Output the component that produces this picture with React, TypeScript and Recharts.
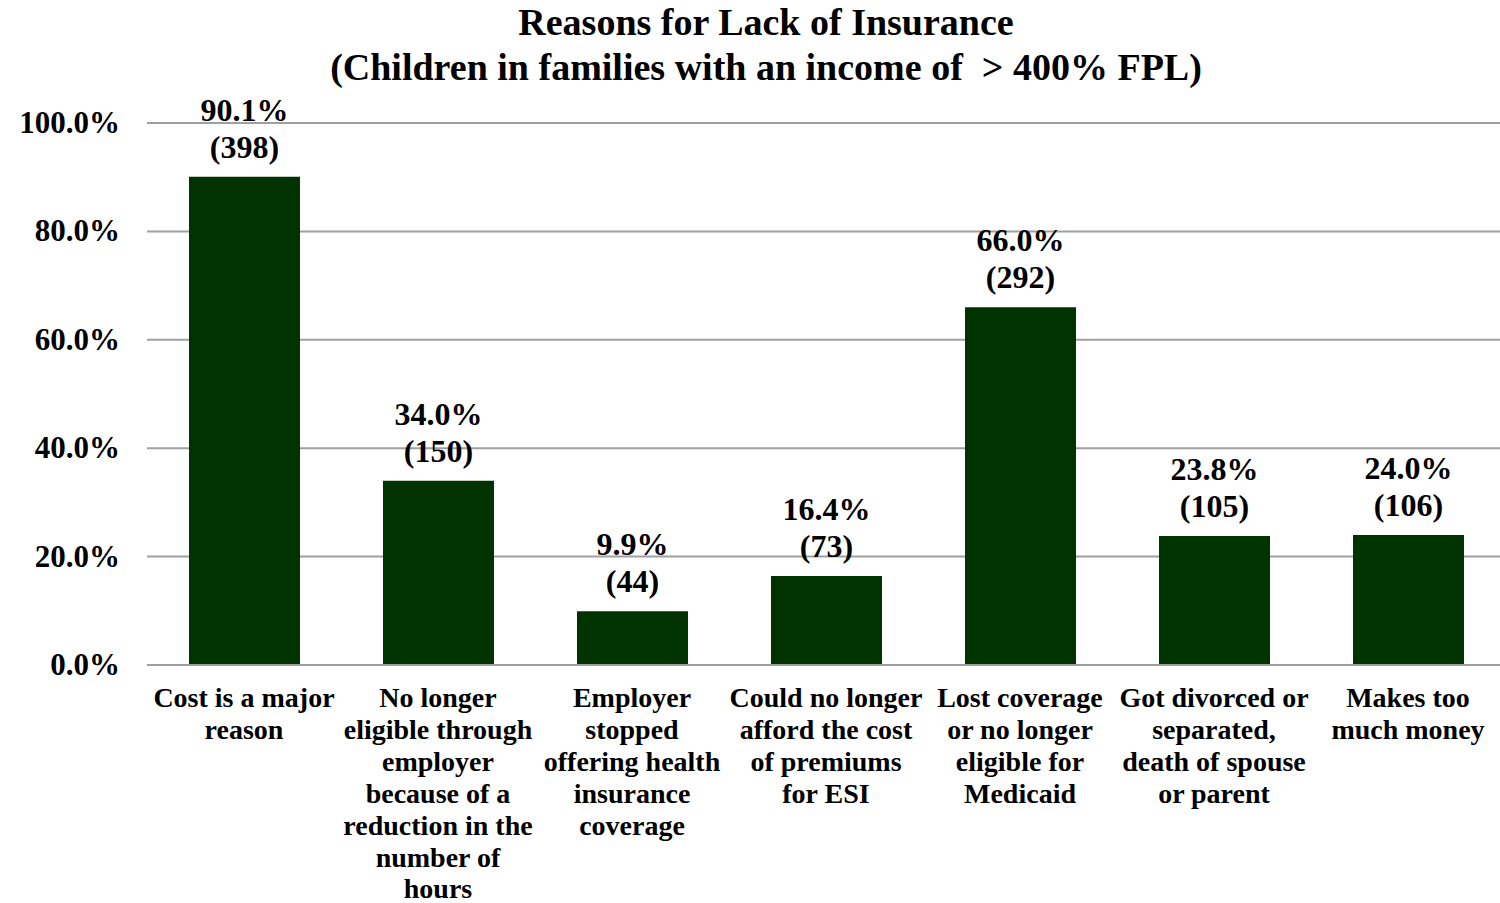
import React from "react";
import { BarChart, Bar, XAxis, YAxis, CartesianGrid, LabelList } from "recharts";

// categories (line breaks as in the original axis)
const CATEGORIES = [
  "Cost is a major\nreason",
  "No longer\neligible through\nemployer\nbecause of a\nreduction in the\nnumber of\nhours",
  "Employer\nstopped\noffering health\ninsurance\ncoverage",
  "Could no longer\nafford the cost\nof premiums\nfor ESI",
  "Lost coverage\nor no longer\neligible for\nMedicaid",
  "Got divorced or\nseparated,\ndeath of spouse\nor parent",
  "Makes too\nmuch money",
];
const PERCENTS = [90.1, 34.0, 9.9, 16.4, 66.0, 23.8, 24.0];
const COUNTS = [398, 150, 44, 73, 292, 105, 106];
const Y_TICKS = [0, 20, 40, 60, 80, 100];

const data = CATEGORIES.map((c, i) => ({ categoria: c, pct: PERCENTS[i], n: COUNTS[i] }));

const FONT = '"Liberation Serif", "Times New Roman", serif';

const XTick = (props: any) => {
  const { x, y, payload } = props;
  const lines = String(payload.value).split("\n");
  return (
    <text x={x} y={y} textAnchor="middle" fontFamily={FONT} fontWeight="bold" fontSize={28} fill="#000">
      {lines.map((l: string, i: number) => (
        <tspan key={i} x={x} dy={i === 0 ? 34 : 31.9}>{l}</tspan>
      ))}
    </text>
  );
};

const YTick = (props: any) => {
  const { x, y, payload } = props;
  return (
    <text x={x - 19} y={y + 10} textAnchor="end" fontFamily={FONT} fontWeight="bold" fontSize={31} fill="#000">
      {payload.value.toFixed(1)}%
    </text>
  );
};

const BarLabel = (props: any) => {
  const { x, y, width, index } = props;
  const cx = x + width / 2;
  return (
    <text x={cx} textAnchor="middle" fontFamily={FONT} fontWeight="bold" fontSize={32} fill="#000">
      <tspan x={cx} y={y - 56}>{PERCENTS[index].toFixed(1)}%</tspan>
      <tspan x={cx} y={y - 19}>({COUNTS[index]})</tspan>
    </text>
  );
};

const App = () => (
  <div style={{ position: "fixed", left: 0, top: 0, width: 1500, height: 903, background: "#fff", overflow: "hidden" }}>
    <div
      style={{
        position: "absolute",
        left: 0,
        top: 0,
        width: 1532,
        textAlign: "center",
        fontFamily: FONT,
        fontWeight: "bold",
        fontSize: 38,
        lineHeight: "45px",
        color: "#000",
      }}
    >
      <div>Reasons for Lack of Insurance</div>
      <div>(Children in families with an income of&nbsp; &gt; 400% FPL)</div>
    </div>
    <div style={{ position: "absolute", left: -1, top: 0 }}>
      <BarChart
        width={1506}
        height={903}
        data={data}
        margin={{ top: 123, right: 0, left: 0, bottom: 0 }}
        barSize={111}
      >
        <CartesianGrid vertical={false} stroke="#a0a0a0" strokeWidth={2} />
        <XAxis
          dataKey="categoria"
          height={238}
          interval={0}
          tickLine={false}
          axisLine={{ stroke: "#a0a0a0", strokeWidth: 2 }}
          tick={<XTick />}
        />
        <YAxis
          type="number"
          domain={[0, 100]}
          ticks={Y_TICKS}
          width={148}
          axisLine={false}
          tickLine={false}
          tick={<YTick />}
        />
        <Bar dataKey="pct" fill="#003300" isAnimationActive={false}>
          <LabelList dataKey="pct" content={<BarLabel />} />
        </Bar>
      </BarChart>
    </div>
  </div>
);

export default App;
